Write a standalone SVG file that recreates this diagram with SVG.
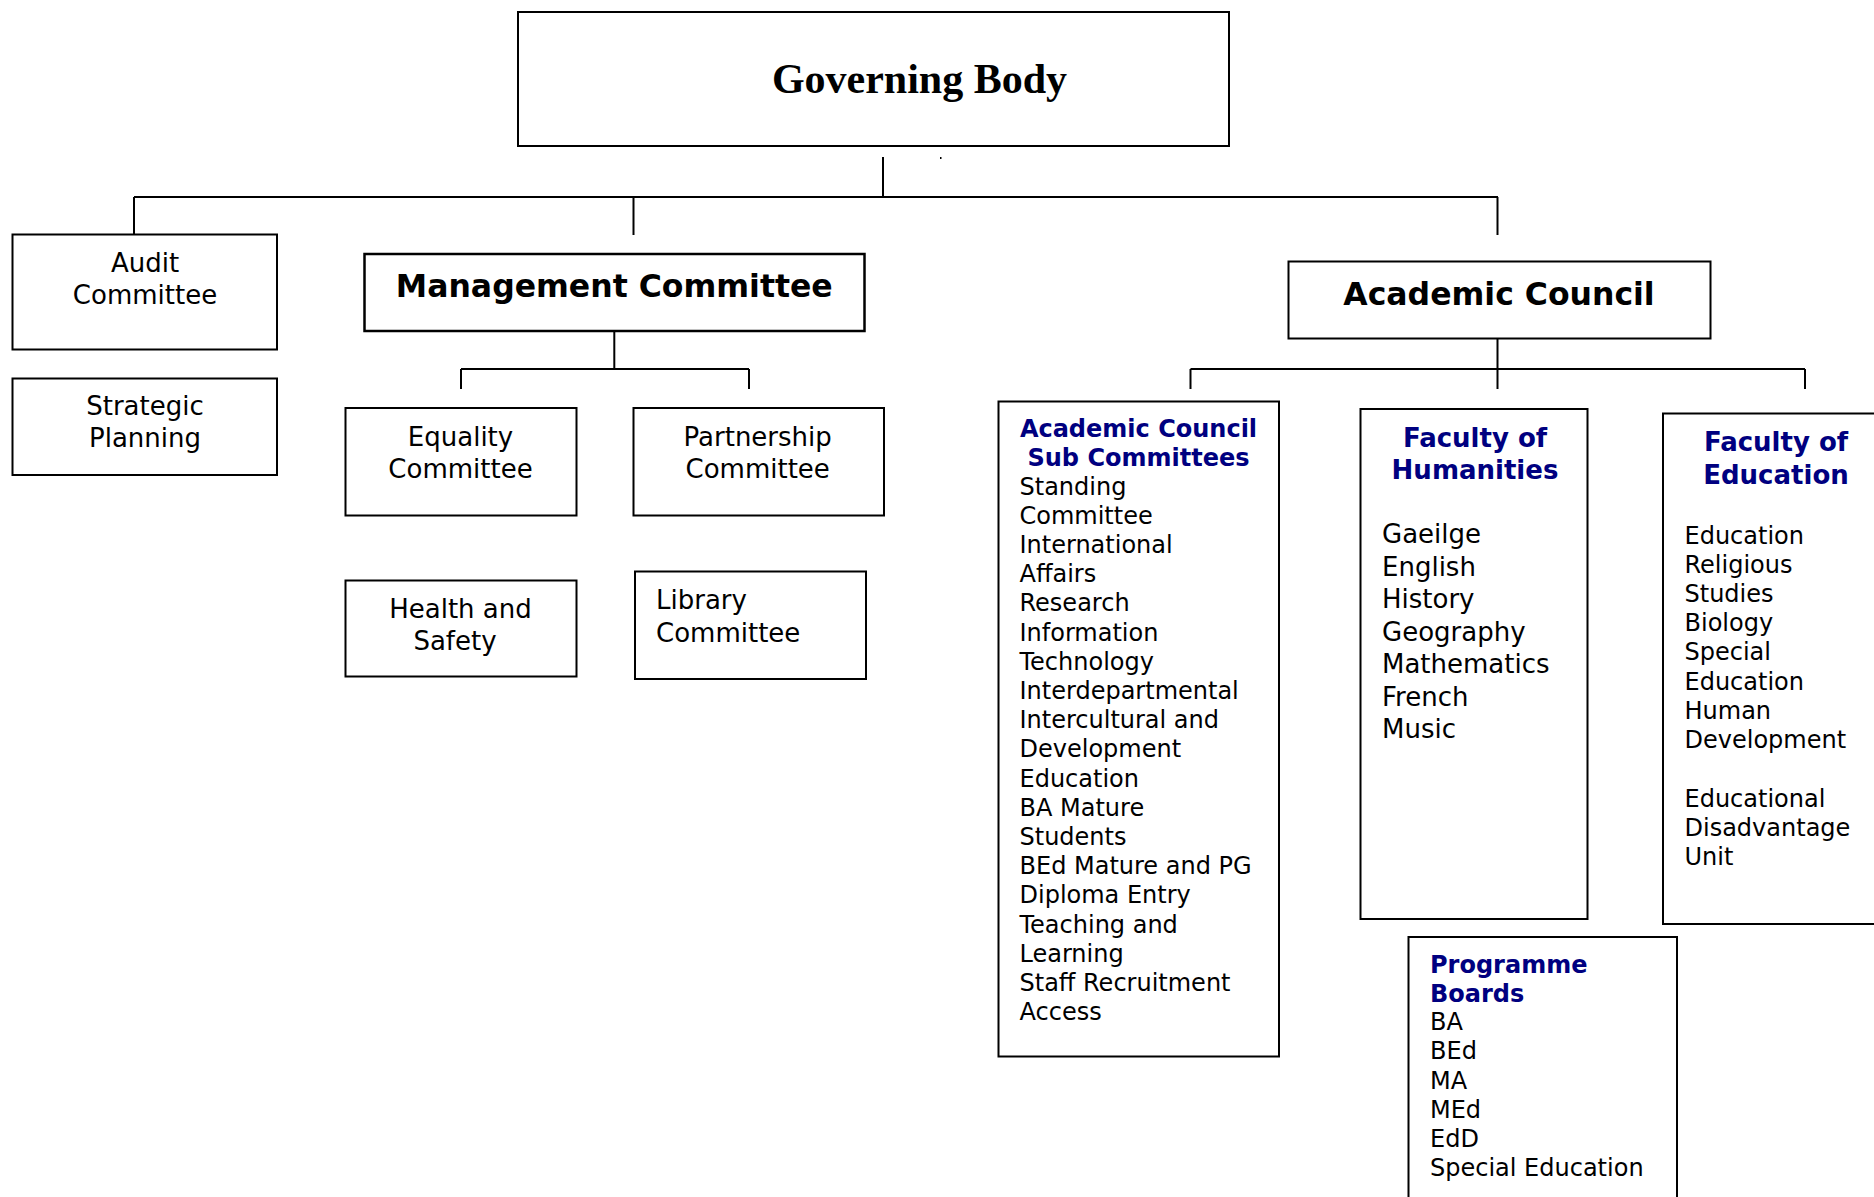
<svg xmlns="http://www.w3.org/2000/svg" width="1874" height="1197" viewBox="0 0 1874 1197">
  <style>
    .box { fill: #ffffff; stroke: #000000; stroke-width: 2; }
    .wire { fill: none; stroke: #000000; stroke-width: 2; }
    .sans { font-family: "DejaVu Sans", Verdana, sans-serif; fill: #000000; }
    .t26 { font-size: 26px; }
    .t24 { font-size: 24px; }
    .head { font-family: "DejaVu Sans", Verdana, sans-serif; font-weight: bold; font-size: 31.5px; fill: #000000; }
    .navy { font-family: "DejaVu Sans", Verdana, sans-serif; font-weight: bold; fill: #000080; }
    .mid { text-anchor: middle; }
    .gov { font-family: "Liberation Serif", "Times New Roman", serif; font-weight: bold; font-size: 42px; fill: #000000; }
  </style>
  <rect width="1874" height="1197" fill="#ffffff"/>

  <!-- connectors -->
  <g id="connectors">
    <path class="wire" d="M883,157 V197"/>
    <path class="wire" d="M134,197 H1498"/>
    <path class="wire" d="M134,197 V234"/>
    <path class="wire" d="M633.5,197 V235"/>
    <path class="wire" d="M1497.5,197 V235"/>
    <rect x="940" y="157" width="1.5" height="2" fill="#000000"/>
    <!-- management committee branches -->
    <path class="wire" d="M614.3,331 V369"/>
    <path class="wire" d="M461,369 H749"/>
    <path class="wire" d="M461,369 V389"/>
    <path class="wire" d="M749,369 V389"/>
    <!-- academic council branches -->
    <path class="wire" d="M1497.5,339 V389"/>
    <path class="wire" d="M1190.5,369 H1805"/>
    <path class="wire" d="M1190.5,369 V389"/>
    <path class="wire" d="M1805,369 V389"/>
  </g>

  <g id="governing-body">
    <rect class="box" x="518" y="12" width="711" height="134"/>
    <text class="gov mid" x="919.5" y="93">Governing Body</text>
  </g>

  <g id="audit-committee">
    <rect class="box" x="12.5" y="234.5" width="264.5" height="115"/>
    <text class="sans t26 mid" x="145" y="272">Audit</text>
    <text class="sans t26 mid" x="145" y="304">Committee</text>
  </g>

  <g id="strategic-planning">
    <rect class="box" x="12.5" y="378.5" width="264.5" height="96.5"/>
    <text class="sans t26 mid" x="145" y="415">Strategic</text>
    <text class="sans t26 mid" x="145" y="447">Planning</text>
  </g>

  <g id="management-committee">
    <rect class="box" x="364.5" y="254" width="500" height="77" style="stroke-width:2.5"/>
    <text class="head mid" x="614.3" y="297">Management Committee</text>
  </g>

  <g id="equality-committee">
    <rect class="box" x="345.5" y="408" width="231" height="107.5"/>
    <text class="sans t26 mid" x="460.5" y="446">Equality</text>
    <text class="sans t26 mid" x="460.5" y="477.5">Committee</text>
  </g>

  <g id="partnership-committee">
    <rect class="box" x="633.5" y="408" width="250.5" height="107.5"/>
    <text class="sans t26 mid" x="757.7" y="446">Partnership</text>
    <text class="sans t26 mid" x="757.7" y="477.5">Committee</text>
  </g>

  <g id="health-and-safety">
    <rect class="box" x="345.5" y="580.5" width="231" height="96"/>
    <text class="sans t26 mid" x="460.5" y="617.5">Health and</text>
    <text class="sans t26 mid" x="455" y="649.5">Safety</text>
  </g>

  <g id="library-committee">
    <rect class="box" x="635" y="571.5" width="231" height="107.5"/>
    <text class="sans t26" x="656" y="608.5">Library</text>
    <text class="sans t26" x="656" y="641.5">Committee</text>
  </g>

  <g id="academic-council">
    <rect class="box" x="1288.5" y="261.5" width="422" height="77"/>
    <text class="head mid" x="1499" y="305">Academic Council</text>
  </g>

  <g id="sub-committees">
    <rect class="box" x="998.5" y="401.5" width="280.5" height="655"/>
    <text class="navy t24 mid" x="1138.5" y="436.5">Academic Council</text>
    <text class="navy t24 mid" x="1138.5" y="466">Sub Committees</text>
    <text class="sans t24" x="1019.5">
      <tspan x="1019.5" y="494.6">Standing</tspan>
      <tspan x="1019.5" y="523.8">Committee</tspan>
      <tspan x="1019.5" y="553">International</tspan>
      <tspan x="1019.5" y="582.2">Affairs</tspan>
      <tspan x="1019.5" y="611.4">Research</tspan>
      <tspan x="1019.5" y="640.6">Information</tspan>
      <tspan x="1019.5" y="669.8">Technology</tspan>
      <tspan x="1019.5" y="699">Interdepartmental</tspan>
      <tspan x="1019.5" y="728.2">Intercultural and</tspan>
      <tspan x="1019.5" y="757.4">Development</tspan>
      <tspan x="1019.5" y="786.6">Education</tspan>
      <tspan x="1019.5" y="815.8">BA Mature</tspan>
      <tspan x="1019.5" y="845">Students</tspan>
      <tspan x="1019.5" y="874.2">BEd Mature and PG</tspan>
      <tspan x="1019.5" y="903.4">Diploma Entry</tspan>
      <tspan x="1019.5" y="932.6">Teaching and</tspan>
      <tspan x="1019.5" y="961.8">Learning</tspan>
      <tspan x="1019.5" y="991">Staff Recruitment</tspan>
      <tspan x="1019.5" y="1020.2">Access</tspan>
    </text>
  </g>

  <g id="faculty-of-humanities">
    <rect class="box" x="1360.5" y="409" width="227" height="510"/>
    <text class="navy t26 mid" x="1475" y="446.5">Faculty of</text>
    <text class="navy t26 mid" x="1475" y="479">Humanities</text>
    <text class="sans t26" x="1382">
      <tspan x="1382" y="543">Gaeilge</tspan>
      <tspan x="1382" y="575.5">English</tspan>
      <tspan x="1382" y="608">History</tspan>
      <tspan x="1382" y="640.5">Geography</tspan>
      <tspan x="1382" y="673">Mathematics</tspan>
      <tspan x="1382" y="705.5">French</tspan>
      <tspan x="1382" y="738">Music</tspan>
    </text>
  </g>

  <g id="faculty-of-education">
    <rect class="box" x="1663" y="413.5" width="240" height="510.5"/>
    <text class="navy t26 mid" x="1776" y="450.5">Faculty of</text>
    <text class="navy t26 mid" x="1776" y="484">Education</text>
    <text class="sans t24" x="1684.5">
      <tspan x="1684.5" y="544">Education</tspan>
      <tspan x="1684.5" y="573.1">Religious</tspan>
      <tspan x="1684.5" y="602.2">Studies</tspan>
      <tspan x="1684.5" y="631.3">Biology</tspan>
      <tspan x="1684.5" y="660.4">Special</tspan>
      <tspan x="1684.5" y="689.5">Education</tspan>
      <tspan x="1684.5" y="718.6">Human</tspan>
      <tspan x="1684.5" y="747.7">Development</tspan>
      <tspan x="1684.5" y="806.5">Educational</tspan>
      <tspan x="1684.5" y="835.6">Disadvantage</tspan>
      <tspan x="1684.5" y="864.7">Unit</tspan>
    </text>
  </g>

  <g id="programme-boards">
    <rect class="box" x="1408.5" y="937" width="268.5" height="280"/>
    <text class="navy t24" x="1430" y="972.5">Programme</text>
    <text class="navy t24" x="1430" y="1001.5">Boards</text>
    <text class="sans t24" x="1430">
      <tspan x="1430" y="1030.2">BA</tspan>
      <tspan x="1430" y="1059.4">BEd</tspan>
      <tspan x="1430" y="1088.6">MA</tspan>
      <tspan x="1430" y="1117.8">MEd</tspan>
      <tspan x="1430" y="1147">EdD</tspan>
      <tspan x="1430" y="1176.2">Special Education</tspan>
    </text>
  </g>
</svg>
